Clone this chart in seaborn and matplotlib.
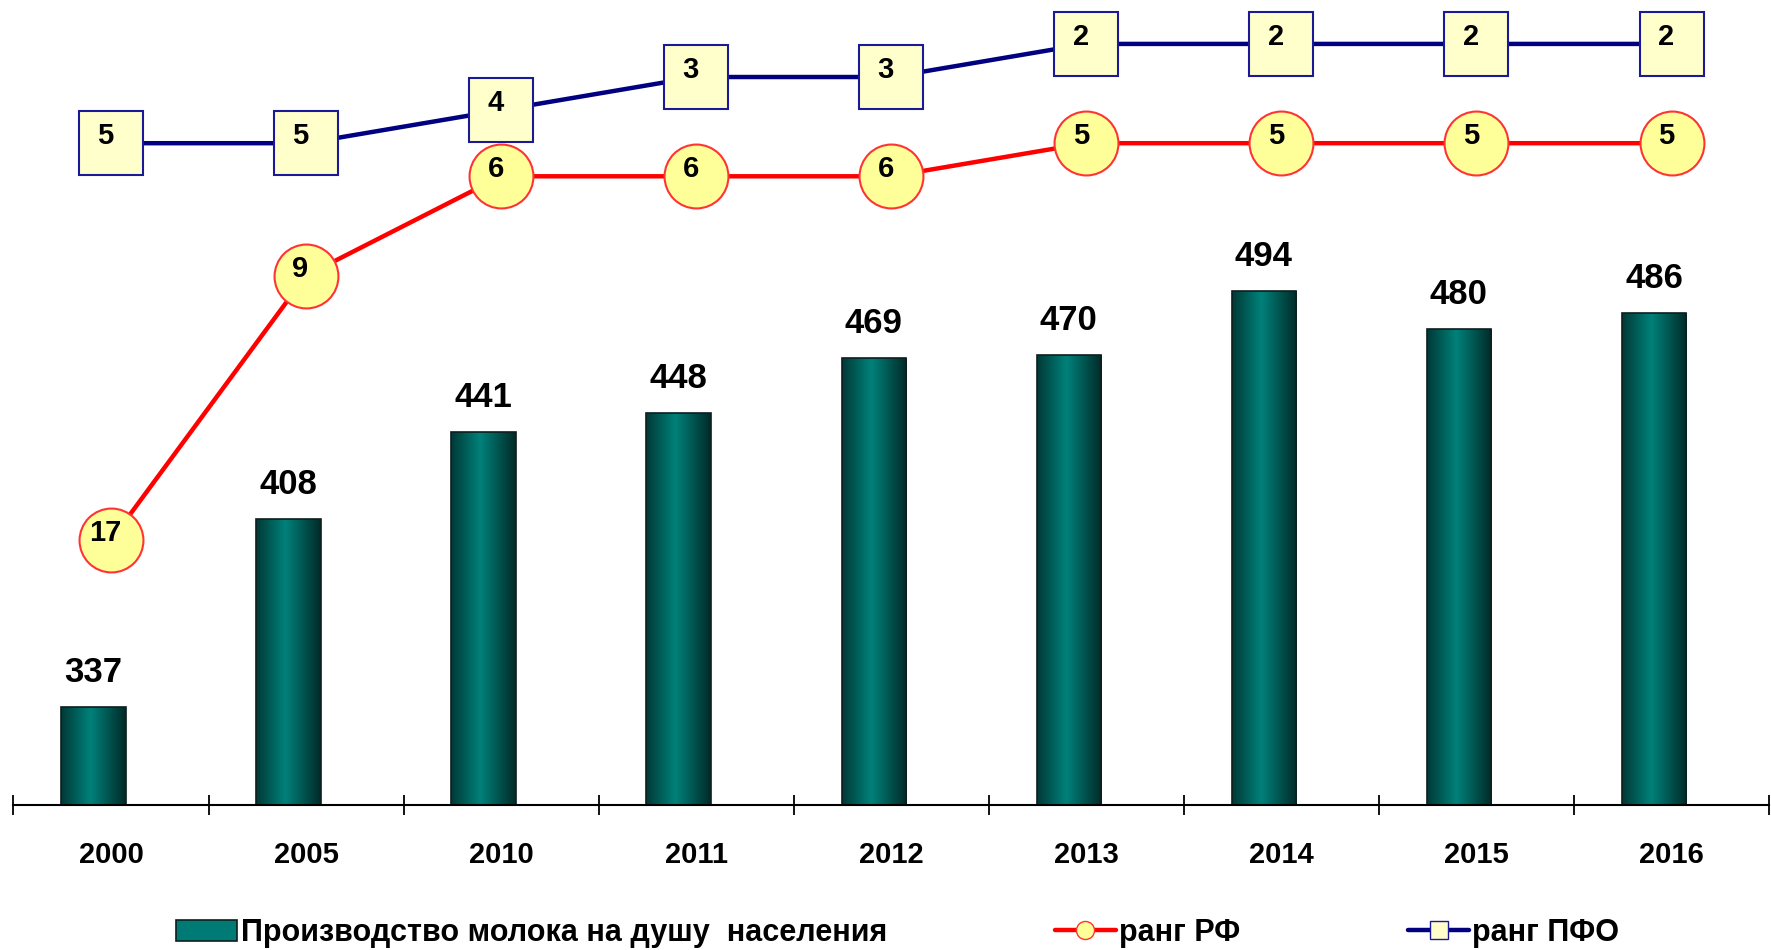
import numpy as np
import pandas as pd
import matplotlib
matplotlib.use("Agg")
import matplotlib.pyplot as plt
import seaborn as sns
from matplotlib.colors import LinearSegmentedColormap
from matplotlib.patches import Patch
from matplotlib.lines import Line2D

# data
years = ["2000", "2005", "2010", "2011", "2012", "2013", "2014", "2015", "2016"]
milk_per_capita = [337, 408, 441, 448, 469, 470, 494, 480, 486]
rank_rf = [17, 9, 6, 6, 6, 5, 5, 5, 5]
rank_pfo = [5, 5, 4, 3, 3, 2, 2, 2, 2]
legend_labels = ["Производство молока на душу  населения", "ранг РФ", "ранг ПФО"]

df = pd.DataFrame({"year": years, "milk": milk_per_capita, "rf": rank_rf, "pfo": rank_pfo})
df["pos"] = np.arange(len(df))

sns.set_style("white")
plt.rcParams["font.family"] = ["Liberation Sans", "DejaVu Sans"]
plt.rcParams["font.weight"] = "bold"
plt.rcParams["text.color"] = "black"
plt.rcParams["xtick.color"] = "black"

y_bottom, y_top = 300, 600

fig = plt.figure(figsize=(17.71, 9.5), dpi=100)
ax = fig.add_axes([0.0076, 0.1526, 0.9913, 0.836])

# bars
sns.barplot(data=df, x="year", y="milk", ax=ax, width=0.33, color="#007a74",
            edgecolor="#0d1f1e", linewidth=1.2, saturation=1)
bars = list(ax.patches)

# cylinder-like shading of the bars
bar_cmap = LinearSegmentedColormap.from_list(
    "bar", [(0, "#003a37"), (0.45, "#00817a"), (1, "#002b29")])
grad = np.linspace(0, 1, 64).reshape(1, -1)
for p in bars:
    p.set_x(p.get_x() - 0.09)
    x0, w, h = p.get_x(), p.get_width(), p.get_height()
    im = ax.imshow(grad, extent=[x0, x0 + w, y_bottom, h], aspect="auto", cmap=bar_cmap,
                   interpolation="bicubic", zorder=p.get_zorder() - 0.1)
    im.set_clip_path(p)
    p.set_facecolor("none")

for p, v in zip(bars, milk_per_capita):
    ax.annotate(str(v), (p.get_x() + p.get_width() / 2, v), xytext=(0, 18),
                textcoords="offset points", ha="center", va="baseline",
                fontsize=25, fontweight="bold")

ax.set_ylim(y_bottom, y_top)
ax.set_yticks([])
ax.set_xlabel("")
ax.set_ylabel("")
for s in ["left", "right", "top"]:
    ax.spines[s].set_visible(False)
ax.spines["bottom"].set_color("black")
ax.spines["bottom"].set_linewidth(1.5)
ax.spines["bottom"].set_zorder(5)
ax.set_xticks(range(len(years)))
ax.set_xticklabels(years, fontsize=21, fontweight="bold")
ax.set_xticks(np.arange(-0.5, len(years), 1), minor=True)
ax.tick_params(axis="x", which="major", bottom=True, length=0, pad=26)
ax.tick_params(axis="x", which="minor", bottom=True, length=15, width=1.3,
               direction="inout", color="black")

# rank lines on an inverted secondary axis
ax2 = ax.twinx()
sns.lineplot(data=df, x="pos", y="pfo", ax=ax2, color="#000080", lw=3.2,
             marker="s", markersize=46, markerfacecolor="#ffffcc",
             markeredgecolor="#1a1a99", markeredgewidth=1.5, clip_on=False)
sns.lineplot(data=df, x="pos", y="rf", ax=ax2, color="#ff0000", lw=3.2,
             marker="o", markersize=46, markerfacecolor="#ffff99",
             markeredgecolor="#ff3333", markeredgewidth=1.5, clip_on=False)
for x, r in zip(df["pos"], rank_pfo):
    ax2.annotate(str(r), (x, r), xytext=(-4, 5), textcoords="offset points",
                 ha="center", va="center", fontsize=21, fontweight="bold")
for x, r in zip(df["pos"], rank_rf):
    ax2.annotate(str(r), (x, r), xytext=(-4, 5), textcoords="offset points",
                 ha="center", va="center", fontsize=21, fontweight="bold")
ax2.set_ylim(25, 1)
ax2.set_yticks([])
ax2.set_ylabel("")
for s in ax2.spines.values():
    s.set_visible(False)
ax.set_xlim(-0.5, len(years) - 0.5)

handles = [
    Patch(facecolor="#007a74", edgecolor="#0d1f1e", linewidth=1.2),
    Line2D([0], [0], color="#ff0000", lw=3.2, marker="o", markersize=13,
           markerfacecolor="#ffff99", markeredgecolor="#ff3333"),
    Line2D([0], [0], color="#000080", lw=3.2, marker="s", markersize=13,
           markerfacecolor="#ffffcc", markeredgecolor="#1a1a99"),
]
fig.legend(handles, legend_labels, loc="center", bbox_to_anchor=(0.507, 1 - 933 / 950),
           ncol=3, frameon=False, prop=dict(weight="bold", size=22),
           handlelength=2.0, handletextpad=0.1, columnspacing=5.5)

fig.savefig("out.png", dpi=100)
